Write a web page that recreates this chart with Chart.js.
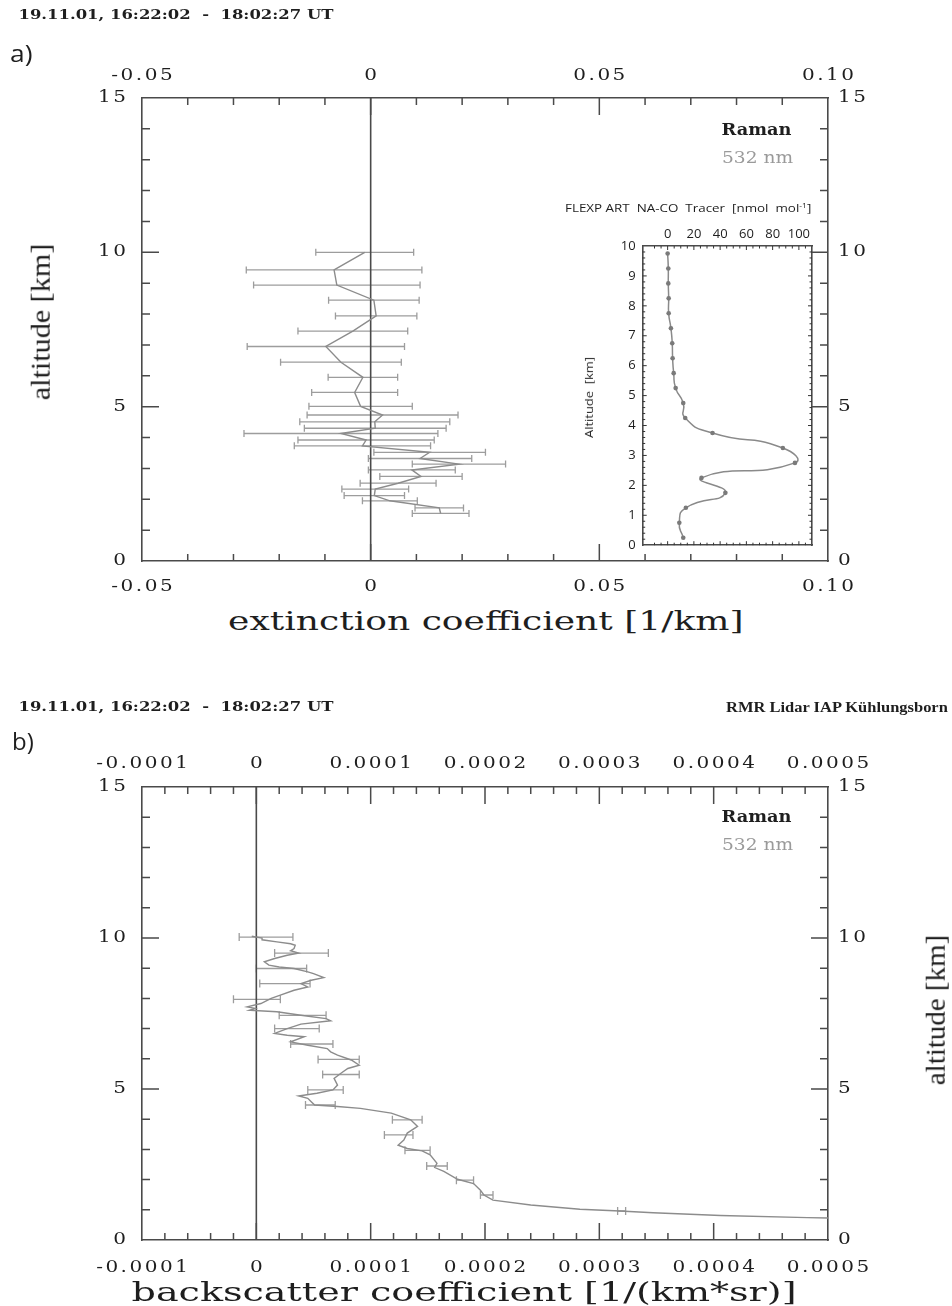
<!DOCTYPE html>
<html>
<head>
<meta charset="utf-8">
<title>RMR Lidar – Raman 532 nm, 19.11.01</title>
<script src="https://cdn.jsdelivr.net/npm/chart.js@4.4.1/dist/chart.umd.min.js"></script>
<style>
  html, body { margin: 0; padding: 0; background: #fff; }
  body { position: relative; width: 952px; height: 1306px; overflow: hidden; color: #1e1e1e; font-family: "DejaVu Serif", serif; }
  canvas { position: absolute; }
  .t { position: absolute; white-space: nowrap; line-height: 1; transform-origin: 50% 50%; }
  .hdr { font-size: 12px; font-weight: bold; }
  .lidar { font-family: "Liberation Serif", serif; font-size: 15px; font-weight: bold; }
  .lab { font-family: "Open Sans", sans-serif; font-size: 24px; }
  .raman { font-size: 16px; font-weight: bold; }
  .nm { font-size: 16px; color: #9a9a9a; }
  .ytitle { font-family: "Liberation Serif", serif; font-size: 28px; }
  .xtitle { font-size: 26px; }
  .inset { font-family: "Open Sans", sans-serif; font-size: 11px; }
  sup { font-size: 7px; vertical-align: 4px; }
</style>
</head>
<body>
<canvas id="chartA" width="952" height="600" style="left:0;top:0"></canvas>
<canvas id="chartTracer" width="290" height="370" style="left:540px;top:190px"></canvas>
<canvas id="chartB" width="952" height="590" style="left:0;top:690px"></canvas>

<!-- panel a -->
<div class="t hdr" data-x="18" data-cy="15" data-w="315">19.11.01, 16:22:02 &nbsp;- &nbsp;18:02:27 UT</div>
<div class="t lab" data-x="10" data-cy="53" data-w="22">a)</div>
<div class="t raman" data-x="721" data-cy="130" data-w="70">Raman</div>
<div class="t nm" data-x="722" data-cy="158" data-w="71">532 nm</div>
<div class="t ytitle" data-cx="40" data-cy="322" data-w="156" data-rot="1">altitude [km]</div>
<div class="t xtitle" data-cx="486" data-cy="621" data-w="516">extinction coefficient [1/km]</div>
<div class="t inset" data-x="565" data-cy="207" data-w="246">FLEXP ART &nbsp;NA-CO &nbsp;Tracer &nbsp;[nmol &nbsp;mol<sup>-1</sup>]</div>
<div class="t inset" data-cx="588" data-cy="397" data-w="81" data-rot="1">Altitude &nbsp;[km]</div>

<!-- panel b -->
<div class="t hdr" data-x="18" data-cy="707" data-w="315">19.11.01, 16:22:02 &nbsp;- &nbsp;18:02:27 UT</div>
<div class="t lidar" data-r="948" data-cy="707" data-w="222">RMR Lidar IAP Kühlungsborn</div>
<div class="t lab" data-x="12" data-cy="741" data-w="22">b)</div>
<div class="t raman" data-x="721" data-cy="817" data-w="70">Raman</div>
<div class="t nm" data-x="722" data-cy="845" data-w="71">532 nm</div>
<div class="t ytitle" data-cx="935" data-cy="1010" data-w="150" data-rot="1">altitude [km]</div>
<div class="t xtitle" data-cx="464" data-cy="1292" data-w="665">backscatter coefficient [1/(km*sr)]</div>

<script>
// ---------- data ----------
// panel a: extinction coefficient (1/km) with errors, vs altitude (km)
const extAlt = [10.0, 9.43, 8.94, 8.45, 7.94, 7.45, 6.95, 6.44, 5.95, 5.46, 5.01, 4.73, 4.51, 4.30,
                4.13, 3.92, 3.73, 3.52, 3.32, 3.14, 2.95, 2.74, 2.52, 2.33, 2.12, 1.95, 1.72, 1.54];
const extVal = [-0.0013, -0.0080, -0.0074, 0.0007, 0.0012, -0.0039, -0.0098, -0.0065, -0.0017, -0.0035,
                -0.0022, 0.0026, 0.0009, 0.0010, -0.0065, -0.0010, -0.0018, 0.0129, 0.0108, 0.0193,
                0.0090, 0.0110, 0.0060, 0.0010, 0.0008, 0.0042, 0.0150, 0.0153];
const extErr = [0.0107, 0.0192, 0.0182, 0.0099, 0.0089, 0.0120, 0.0172, 0.0132, 0.0076, 0.0094,
                0.0113, 0.0165, 0.0164, 0.0155, 0.0212, 0.0149, 0.0149, 0.0122, 0.0113, 0.0102,
                0.0095, 0.0090, 0.0083, 0.0073, 0.0066, 0.0060, 0.0053, 0.0062];

// inset: FLEXPART NA-CO tracer (nmol/mol) vs altitude (km)
const tracerAlt = [9.75, 9.25, 8.75, 8.25, 7.75, 7.25, 6.75, 6.25, 5.75, 5.25,
                   4.75, 4.25, 3.75, 3.25, 2.75, 2.25, 1.75, 1.25, 0.75, 0.25];
const tracerVal = [0, 0.5, 0.5, 0.8, 0.8, 2.5, 3.5, 3.8, 4.6, 6.1,
                   11.9, 13.4, 34.2, 87.8, 97.0, 25.8, 44.0, 13.9, 8.9, 11.9];

// panel b: backscatter coefficient 1/(km*sr) vs altitude (km)
const bscAlt = [10.06, 10.00, 9.94, 9.87, 9.81, 9.76, 9.65, 9.58, 9.50, 9.43, 9.32, 9.21, 9.10, 9.04,
                8.99, 8.88, 8.82, 8.69, 8.60, 8.49, 8.38, 8.27, 8.11, 8.00, 7.83, 7.72, 7.67, 7.61,
                7.56, 7.44, 7.33, 7.26, 7.15, 7.00, 6.84, 6.78, 6.73, 6.56, 6.45, 6.34, 6.23, 6.12,
                5.96, 5.79, 5.68, 5.52, 5.35, 5.13, 4.97, 4.86, 4.77, 4.69, 4.58, 4.47, 4.42, 4.36,
                4.20, 3.98, 3.76, 3.54, 3.31, 3.14, 3.03, 2.95, 2.82, 2.54, 2.40, 2.27, 2.01, 1.87,
                1.65, 1.49, 1.32, 1.16, 1.02, 0.96, 0.90, 0.81, 0.74, 0.72];
const bscVal = [-0.4e-5, 0.5e-5, 0.5e-5, 1.8e-5, 3.0e-5, 3.4e-5, 3.3e-5, 3.0e-5, 3.7e-5, 2.7e-5,
                1.6e-5, 0.7e-5, 1.1e-5, 2.0e-5, 3.3e-5, 4.5e-5, 5.0e-5, 5.9e-5, 4.8e-5, 3.9e-5,
                4.5e-5, 3.3e-5, 2.1e-5, 1.3e-5, 0.4e-5, -0.8e-5, -0.1e-5, -0.6e-5, 1.8e-5, 3.9e-5,
                6.1e-5, 6.5e-5, 3.9e-5, 2.7e-5, 1.6e-5, 2.7e-5, 4.2e-5, 3.0e-5, 4.5e-5, 6.2e-5,
                6.5e-5, 7.1e-5, 8.3e-5, 9.0e-5, 8.0e-5, 7.4e-5, 6.8e-5, 7.1e-5, 6.7e-5, 5.3e-5,
                3.7e-5, 4.5e-5, 4.8e-5, 5.1e-5, 7.1e-5, 9.1e-5, 11.8e-5, 13.5e-5, 14.1e-5, 13.2e-5,
                12.9e-5, 12.4e-5, 13.2e-5, 14.5e-5, 15.2e-5, 15.8e-5, 15.6e-5, 16.4e-5, 17.6e-5, 19.0e-5,
                19.6e-5, 19.9e-5, 20.7e-5, 24.0e-5, 28.3e-5, 31.8e-5, 34.7e-5, 40.6e-5, 48.2e-5, 52.0e-5];
// error bars of panel b (low / high end)
const bscErrAlt  = [10.03, 9.50, 8.99, 8.49, 7.97, 7.44, 7.00, 6.49, 5.98, 5.48, 4.97, 4.47, 3.98, 3.48, 2.97, 2.45, 1.98, 1.49, 0.96];
const bscErrLow  = [-1.5e-5, 1.6e-5, 0.0, 0.3e-5, -2.0e-5, 2.0e-5, 1.6e-5, 3.0e-5, 5.4e-5, 5.8e-5, 4.5e-5, 4.3e-5,
                    11.9e-5, 11.2e-5, 13.0e-5, 14.9e-5, 17.5e-5, 19.6e-5, 31.6e-5];
const bscErrHigh = [3.2e-5, 6.3e-5, 4.4e-5, 4.7e-5, 2.1e-5, 6.1e-5, 5.5e-5, 6.7e-5, 9.0e-5, 9.0e-5, 7.6e-5, 6.9e-5,
                    14.5e-5, 13.7e-5, 15.2e-5, 16.7e-5, 19.0e-5, 20.7e-5, 32.3e-5];

// tick values and labels
const altTicks = [0, 5, 10, 15];
const altLabels = ['0', '5', '10', '15'];
const extTicks = [-0.05, 0, 0.05, 0.10];
const extLabels = ['-0.05', '0', '0.05', '0.10'];
const bscTicks = [-0.0001, 0, 0.0001, 0.0002, 0.0003, 0.0004, 0.0005];
const bscLabels = ['-0.0001', '0', '0.0001', '0.0002', '0.0003', '0.0004', '0.0005'];
const trcTicks = [0, 20, 40, 60, 80, 100];
const trcLabels = ['0', '20', '40', '60', '80', '100'];
const trcAltTicks = [0, 1, 2, 3, 4, 5, 6, 7, 8, 9, 10];
const trcAltLabels = trcAltTicks.map(String);

// ---------- styling ----------
const FRAME = '#4a4a4a';
const INK = '#1e1e1e';
const PROFILE = '#8c8c8c';
const ERRBAR = '#9d9d9d';

// place html texts: centre + stretch to target width
document.querySelectorAll('.t').forEach(el => {
  const w = el.offsetWidth, h = el.offsetHeight;
  const tw = +el.dataset.w || w;
  let cx;
  if (el.dataset.cx !== undefined) cx = +el.dataset.cx;
  else if (el.dataset.r !== undefined) cx = +el.dataset.r - tw / 2;
  else cx = +el.dataset.x + tw / 2;
  el.style.left = (cx - w / 2) + 'px';
  el.style.top = (+el.dataset.cy - h / 2) + 'px';
  el.style.transform = (el.dataset.rot ? 'rotate(-90deg) ' : '') + 'scaleX(' + (tw / w) + ')';
});

// scale with fixed thickness, explicit ticks, frame border
function frameScale(pos, min, max, ticks, labels, size, pad, font, showLabels = true) {
  const horiz = pos === 'top' || pos === 'bottom';
  return {
    type: 'linear', position: pos, min, max,
    grid: { display: false, drawTicks: false, tickLength: 0 },
    border: { display: true, color: FRAME, width: 1.6 },
    ticks: {
      display: showLabels, autoSkip: false, maxRotation: 0, minRotation: 0,
      padding: pad, color: INK, font,
      callback: (v, i) => labels[i]
    },
    afterBuildTicks: s => { s.ticks = ticks.map(v => ({ value: v })); },
    afterFit: s => { if (horiz) s.height = size; else s.width = size; }
  };
}

// inward tick marks on the frame
function frameTicks(sets, color, width) {
  return {
    id: 'frameTicks',
    afterDraw(chart) {
      const ctx = chart.ctx;
      ctx.save();
      ctx.strokeStyle = color;
      ctx.lineWidth = width;
      ctx.beginPath();
      sets.forEach(s => {
        const sc = chart.scales[s.axis];
        const n = Math.round((s.to - s.from) / s.step);
        for (let i = 1; i < n; i++) {
          const p = sc.getPixelForValue(s.from + i * s.step);
          const len = (i + s.shift) % s.every === 0 ? s.major : s.minor;
          if (s.side === 'left') { ctx.moveTo(sc.right, p); ctx.lineTo(sc.right + len, p); }
          if (s.side === 'right') { ctx.moveTo(sc.left, p); ctx.lineTo(sc.left - len, p); }
          if (s.side === 'top') { ctx.moveTo(p, sc.bottom); ctx.lineTo(p, sc.bottom + len); }
          if (s.side === 'bottom') { ctx.moveTo(p, sc.top); ctx.lineTo(p, sc.top - len); }
        }
      });
      ctx.stroke();
      ctx.restore();
    }
  };
}

// wide serif tick labels (the original plot uses a broad, spaced face)
function wideLabels(sets) {
  return {
    id: 'wideLabels',
    afterDraw(chart) {
      const ctx = chart.ctx;
      ctx.save();
      ctx.fillStyle = INK;
      ctx.font = '16px "DejaVu Serif"';
      ctx.letterSpacing = '2px';
      ctx.textBaseline = 'middle';
      const SX = 1.25;
      sets.forEach(s => {
        const sc = chart.scales[s.axis];
        s.values.forEach((v, i) => {
          const txt = s.labels[i];
          const w = (ctx.measureText(txt).width - 2) * SX;
          const p = sc.getPixelForValue(v);
          let x, y;
          if (s.side === 'left') { x = sc.right - s.offset - w; y = p; }
          if (s.side === 'right') { x = sc.left + s.offset; y = p; }
          if (s.side === 'top') { x = p - w / 2; y = sc.bottom - s.offset; }
          if (s.side === 'bottom') { x = p - w / 2; y = sc.top + s.offset; }
          ctx.save();
          ctx.translate(x, y);
          ctx.scale(SX, 1);
          ctx.textAlign = 'left';
          ctx.fillText(txt, 0, 0);
          ctx.restore();
        });
      });
      ctx.restore();
    }
  };
}

// horizontal error bars with caps
function errorBars(alts, lows, highs, cap) {
  return {
    id: 'errorBars',
    beforeDatasetsDraw(chart) {
      const { ctx, chartArea: a, scales: { x, y } } = chart;
      ctx.save();
      ctx.beginPath();
      ctx.rect(a.left, a.top, a.right - a.left, a.bottom - a.top);
      ctx.clip();
      ctx.strokeStyle = ERRBAR;
      ctx.lineWidth = 1.3;
      ctx.beginPath();
      alts.forEach((alt, i) => {
        const py = y.getPixelForValue(alt);
        const x0 = x.getPixelForValue(lows[i]);
        const x1 = x.getPixelForValue(highs[i]);
        ctx.moveTo(x0, py); ctx.lineTo(x1, py);
        ctx.moveTo(x0, py - cap); ctx.lineTo(x0, py + cap);
        ctx.moveTo(x1, py - cap); ctx.lineTo(x1, py + cap);
      });
      ctx.stroke();
      ctx.restore();
    }
  };
}

const toXY = (xs, ys) => xs.map((v, i) => ({ x: v, y: ys[i] }));

function mainChart(id, xMin, xMax, xTicks, xLabels, profile, bars, minorStep, top, bot) {
  return new Chart(document.getElementById(id), {
    type: 'line',
    data: {
      datasets: [
        { data: profile, borderColor: PROFILE, borderWidth: 1.4, pointRadius: 0, tension: 0, xAxisID: 'x', yAxisID: 'y' },
        { data: toXY([0, 0], [0, 15]), borderColor: FRAME, borderWidth: 1.6, pointRadius: 0, xAxisID: 'x', yAxisID: 'y' }
      ]
    },
    options: {
      responsive: false, animation: false, events: [],
      layout: { padding: 0 },
      plugins: { legend: { display: false }, tooltip: { enabled: false } },
      scales: {
        x: frameScale('bottom', xMin, xMax, xTicks, xLabels, bot.size, 0, {}, false),
        x2: frameScale('top', xMin, xMax, xTicks, xLabels, top.size, 0, {}, false),
        y: frameScale('left', 0, 15, altTicks, altLabels, 142, 0, {}, false),
        y2: frameScale('right', 0, 15, altTicks, altLabels, 124, 0, {}, false)
      }
    },
    plugins: [
      bars,
      frameTicks([
        { axis: 'x', side: 'bottom', from: xMin, to: xMax, step: minorStep, every: 5, shift: 0, major: 17, minor: 7 },
        { axis: 'x2', side: 'top', from: xMin, to: xMax, step: minorStep, every: 5, shift: 0, major: 17, minor: 7 },
        { axis: 'y', side: 'left', from: 0, to: 15, step: 1, every: 5, shift: 0, major: 17, minor: 8 },
        { axis: 'y2', side: 'right', from: 0, to: 15, step: 1, every: 5, shift: 0, major: 17, minor: 8 }
      ], FRAME, 1.5),
      wideLabels([
        { axis: 'x', side: 'bottom', values: xTicks, labels: xLabels, offset: bot.off },
        { axis: 'x2', side: 'top', values: xTicks, labels: xLabels, offset: top.off },
        { axis: 'y', side: 'left', values: altTicks, labels: altLabels, offset: 16 },
        { axis: 'y2', side: 'right', values: altTicks, labels: altLabels, offset: 10 }
      ])
    ]
  });
}

// panel a
mainChart('chartA', -0.05, 0.10, extTicks, extLabels, toXY(extVal, extAlt),
  errorBars(extAlt, extVal.map((v, i) => v - extErr[i]), extVal.map((v, i) => v + extErr[i]), 3.5),
  0.01, { size: 98, off: 22 }, { size: 39, off: 26 });

// panel b
mainChart('chartB', -0.0001, 0.0005, bscTicks, bscLabels, toXY(bscVal, bscAlt),
  errorBars(bscErrAlt, bscErrLow, bscErrHigh, 4),
  0.00002, { size: 97, off: 23 }, { size: 40, off: 28 });

// inset: tracer profile
const TRC_FONT = { family: 'Open Sans', size: 13 };
new Chart(document.getElementById('chartTracer'), {
  type: 'line',
  data: {
    datasets: [{
      data: toXY(tracerVal, tracerAlt), borderColor: '#8a8a8a', borderWidth: 1.5, tension: 0.6,
      pointRadius: 2.3, pointBackgroundColor: '#7a7a7a', pointBorderWidth: 0, xAxisID: 'x', yAxisID: 'y'
    }]
  },
  options: {
    responsive: false, animation: false, events: [],
    layout: { padding: 0 },
    plugins: { legend: { display: false }, tooltip: { enabled: false } },
    scales: {
      x: frameScale('top', -19, 110, trcTicks, trcLabels, 56, 4, TRC_FONT),
      x2: frameScale('bottom', -19, 110, trcTicks, trcLabels, 14.3, 0, TRC_FONT, false),
      y: frameScale('left', 0, 10, trcAltTicks, trcAltLabels, 102.7, 7, TRC_FONT),
      y2: frameScale('right', 0, 10, trcAltTicks, trcAltLabels, 18, 0, TRC_FONT, false)
    }
  },
  plugins: [
    frameTicks([
      { axis: 'x', side: 'top', from: -15, to: 110, step: 5, every: 4, shift: 1, major: 4, minor: 2.5 },
      { axis: 'x2', side: 'bottom', from: -15, to: 110, step: 5, every: 4, shift: 1, major: 4, minor: 2.5 },
      { axis: 'y', side: 'left', from: 0, to: 10, step: 0.2, every: 5, shift: 0, major: 4, minor: 2.5 },
      { axis: 'y2', side: 'right', from: 0, to: 10, step: 0.2, every: 5, shift: 0, major: 4, minor: 2.5 }
    ], '#333', 1)
  ]
});
</script>
</body>
</html>
